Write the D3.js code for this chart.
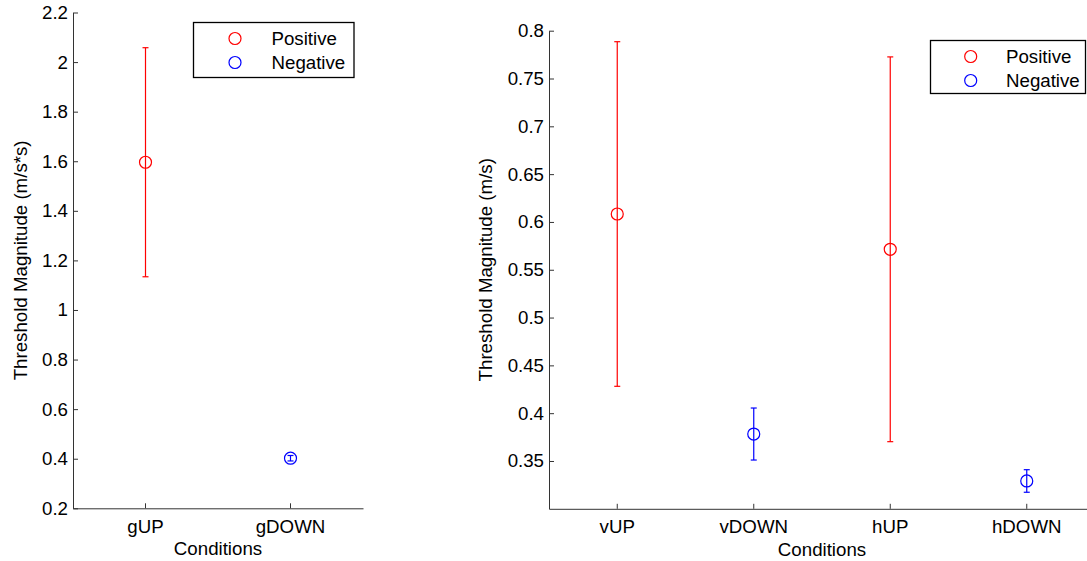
<!DOCTYPE html>
<html>
<head>
<meta charset="utf-8">
<script src="https://cdn.jsdelivr.net/npm/d3@7"></script>
<style>
  html, body { margin: 0; padding: 0; background: #fff; }
  svg { display: block; }
  text { font-family: "Liberation Sans", Arial, Helvetica, sans-serif; fill: #000; }
</style>
</head>
<body>
<svg id="chart" width="1087" height="561"></svg>
<script>
// ---------- data ----------
const leftCategories = ["gUP", "gDOWN"];
const leftPositiveMean = [1.596, null];
const leftPositiveErr = [0.462, null];
const leftNegativeMean = [null, 0.402];
const leftNegativeErr = [null, 0.011];
const leftTicks = [0.2, 0.4, 0.6, 0.8, 1, 1.2, 1.4, 1.6, 1.8, 2, 2.2];
const leftDomain = [0.2, 2.2];

const rightCategories = ["vUP", "vDOWN", "hUP", "hDOWN"];
const rightPositiveMean = [0.6083, null, 0.5714, null];
const rightPositiveErr = [0.1802, null, 0.2012, null];
const rightNegativeMean = [null, 0.3782, null, 0.3291];
const rightNegativeErr = [null, 0.0272, null, 0.0118];
const rightTicks = [0.35, 0.4, 0.45, 0.5, 0.55, 0.6, 0.65, 0.7, 0.75, 0.8];
const rightDomain = [0.3, 0.8];

const seriesNames = ["Positive", "Negative"];
const seriesColors = ["#ff0000", "#0000ff"];

const svg = d3.select("#chart");
const axisColor = "#333";
const fontSize = 18.7;

function panel(opt) {
  const g = svg.append("g");
  const x = d3.scaleBand().domain(opt.categories).range([opt.x0, opt.x1]).paddingInner(0).paddingOuter(0);
  const y = d3.scaleLinear().domain(opt.domain).range([opt.y0, opt.y1]);

  // x axis
  const xa = g.append("g").attr("transform", `translate(0,${opt.y0})`)
    .call(d3.axisBottom(x).tickSizeInner(-5).tickSizeOuter(0).tickPadding(10));
  xa.select(".domain").attr("stroke", axisColor);
  xa.selectAll(".tick line").attr("stroke", axisColor);
  xa.selectAll(".tick text").attr("font-size", fontSize).attr("font-family", null).attr("dy", "0.71em").attr("y", 11);

  // y axis
  const ya = g.append("g").attr("transform", `translate(${opt.x0},0)`)
    .call(d3.axisLeft(y).tickValues(opt.ticks).tickFormat(d3.format("~g")).tickSizeInner(-5).tickSizeOuter(0).tickPadding(6));
  ya.select(".domain").attr("stroke", axisColor);
  ya.selectAll(".tick line").attr("stroke", axisColor);
  ya.selectAll(".tick text").attr("font-size", fontSize).attr("font-family", null).attr("x", -5);

  // axis titles
  g.append("text").attr("x", opt.xLabelX)
    .attr("y", opt.y0 + 47).attr("text-anchor", "middle").attr("font-size", fontSize).text("Conditions");
  g.append("text")
    .attr("transform", `translate(${opt.yLabelX},${(opt.y0 + opt.y1) / 2}) rotate(-90)`)
    .attr("text-anchor", "middle").attr("font-size", fontSize).text(opt.yLabel);

  // error bars + markers
  const cx = c => x(c) + x.bandwidth() / 2;
  const series = [
    { mean: opt.pos, err: opt.posErr, color: seriesColors[0] },
    { mean: opt.neg, err: opt.negErr, color: seriesColors[1] }
  ];
  series.forEach(s => {
    const pts = opt.categories.map((c, i) => ({ c, m: s.mean[i], e: s.err[i] })).filter(d => d.m != null);
    const eg = g.append("g").attr("stroke", s.color).attr("fill", "none").attr("stroke-width", 1.2);
    pts.forEach(d => {
      const px = cx(d.c);
      eg.append("line").attr("x1", px).attr("x2", px).attr("y1", y(d.m + d.e)).attr("y2", y(d.m - d.e));
      eg.append("line").attr("x1", px - 3).attr("x2", px + 3).attr("y1", y(d.m + d.e)).attr("y2", y(d.m + d.e));
      eg.append("line").attr("x1", px - 3).attr("x2", px + 3).attr("y1", y(d.m - d.e)).attr("y2", y(d.m - d.e));
      eg.append("circle").attr("cx", px).attr("cy", y(d.m)).attr("r", 6).attr("fill", "none");
    });
  });

  // legend
  const L = opt.legend;
  const lg = g.append("g");
  lg.append("rect").attr("x", L.x).attr("y", L.y).attr("width", L.w).attr("height", L.h)
    .attr("fill", "#fff").attr("stroke", "#000").attr("stroke-width", 1.3);
  seriesNames.forEach((n, i) => {
    const ry = L.y + 16 + i * 24;
    lg.append("circle").attr("cx", L.mx).attr("cy", ry).attr("r", 6)
      .attr("fill", "none").attr("stroke", seriesColors[i]).attr("stroke-width", 1.2);
    lg.append("text").attr("x", L.tx).attr("y", ry).attr("dy", "0.36em")
      .attr("font-size", fontSize).text(n);
  });
}

panel({
  categories: leftCategories, domain: leftDomain, ticks: leftTicks,
  pos: leftPositiveMean, posErr: leftPositiveErr, neg: leftNegativeMean, negErr: leftNegativeErr,
  x0: 73, x1: 363, y0: 508.3, y1: 12.5,
  xLabelX: 218, yLabelX: 27, yLabel: "Threshold Magnitude (m/s*s)",
  legend: { x: 193.5, y: 22.5, w: 160.5, h: 55, mx: 235, tx: 271.5 }
});

panel({
  categories: rightCategories, domain: rightDomain, ticks: rightTicks,
  pos: rightPositiveMean, posErr: rightPositiveErr, neg: rightNegativeMean, negErr: rightNegativeErr,
  x0: 549, x1: 1095, y0: 508.8, y1: 30.7,
  xLabelX: 822, yLabelX: 492, yLabel: "Threshold Magnitude (m/s)",
  legend: { x: 930.5, y: 40.5, w: 155, h: 53, mx: 970.7, tx: 1006 }
});
</script>
</body>
</html>
